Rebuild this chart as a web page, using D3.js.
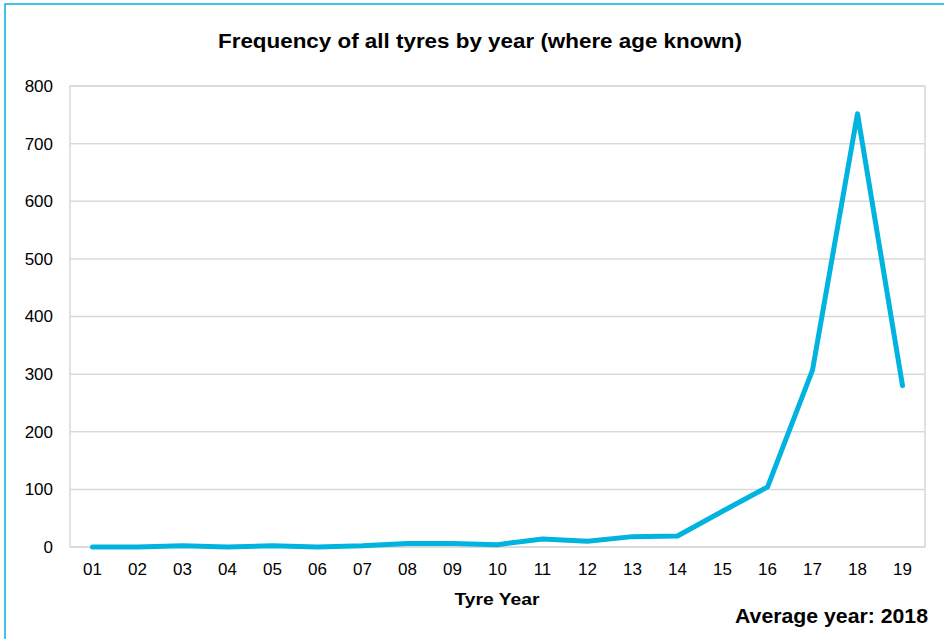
<!DOCTYPE html>
<html><head><meta charset="utf-8">
<script src="https://cdn.jsdelivr.net/npm/d3@7"></script>
<style>body{margin:0;background:#fff}svg{display:block;font-family:"Liberation Sans",Arial,sans-serif}</style>
</head><body>
<svg id="c" width="944" height="639"></svg>
<script>
const categories = ["01","02","03","04","05","06","07","08","09","10","11","12","13","14","15","16","17","18","19"];
const values = [0,0,2,0,2,0,2,6,6,4,14,10,18,19,62,104,307,752,280];
const yTicks = [0,100,200,300,400,500,600,700,800];

const svg = d3.select("#c");
svg.append("rect").attr("x",5).attr("y",4).attr("width",960).attr("height",700)
  .attr("fill","#fff").attr("stroke","#00b4df").attr("stroke-width",1.5);

const L=70, R=925, T=86, B=547;
const x = d3.scaleBand().domain(categories).range([L,R]);
const y = d3.scaleLinear().domain([0,800]).range([B,T]);

svg.append("g").selectAll("line").data(yTicks).join("line")
  .attr("x1",L).attr("x2",R).attr("y1",d=>y(d)).attr("y2",d=>y(d))
  .attr("stroke","#d9d9d9").attr("stroke-width",1.5);
svg.append("rect").attr("x",L).attr("y",T).attr("width",R-L).attr("height",B-T)
  .attr("fill","none").attr("stroke","#d9d9d9").attr("stroke-width",1.5);

const ya = svg.append("g").attr("transform",`translate(${L-17},0)`)
  .call(d3.axisLeft(y).tickValues(yTicks).tickSize(0).tickPadding(0));
ya.select(".domain").remove();
ya.selectAll("text").attr("font-size",17).attr("fill","#000").attr("font-family","Liberation Sans, Arial, sans-serif");

const xa = svg.append("g").attr("transform",`translate(0,${B+16})`)
  .call(d3.axisBottom(x).tickSize(0).tickPadding(0));
xa.select(".domain").remove();
xa.selectAll("text").attr("font-size",17).attr("fill","#000").attr("dy","0.71em").attr("font-family","Liberation Sans, Arial, sans-serif");

const line = d3.line().x((d,i)=>x(categories[i])+x.bandwidth()/2).y(d=>y(d));
svg.append("path").datum(values).attr("d",line).attr("fill","none")
  .attr("stroke","#00b4df").attr("stroke-width",5).attr("stroke-linejoin","round").attr("stroke-linecap","round");

svg.append("text").attr("x",480).attr("y",48).attr("text-anchor","middle")
  .attr("font-size",20).attr("font-weight","bold")
  .attr("textLength",524).attr("lengthAdjust","spacingAndGlyphs")
  .text("Frequency of all tyres by year (where age known)");
svg.append("text").attr("x",497).attr("y",605).attr("text-anchor","middle")
  .attr("font-size",17).attr("font-weight","bold")
  .attr("textLength",85).attr("lengthAdjust","spacingAndGlyphs")
  .text("Tyre Year");
svg.append("text").attr("x",928).attr("y",623).attr("text-anchor","end")
  .attr("font-size",20).attr("font-weight","bold")
  .attr("textLength",193).attr("lengthAdjust","spacingAndGlyphs")
  .text("Average year: 2018");
</script>
</body></html>
